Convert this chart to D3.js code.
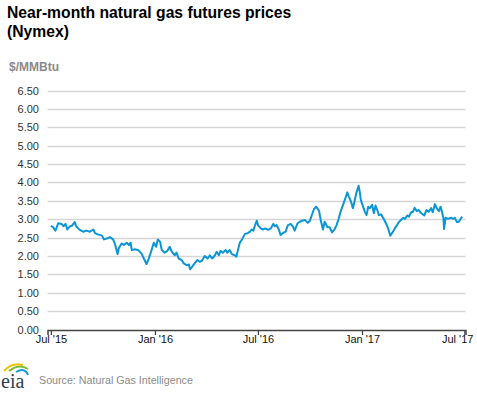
<!DOCTYPE html>
<html>
<head>
<meta charset="utf-8">
<script src="https://cdn.jsdelivr.net/npm/d3@7"></script>
<style>
  body { margin: 0; background: #fff; }
  svg { display: block; font-family: Arial, "Liberation Sans", sans-serif; }
</style>
</head>
<body>
<svg id="chart" width="477" height="393"></svg>
<script>
// near-month Henry Hub futures ($/MMBtu)
var dates = [
  '2015-07-01','2015-07-05','2015-07-09','2015-07-14','2015-07-20','2015-07-23','2015-07-27','2015-07-30',
  '2015-08-03','2015-08-07','2015-08-12','2015-08-15','2015-08-21','2015-08-27','2015-09-02','2015-09-08',
  '2015-09-14','2015-09-17','2015-09-23','2015-09-29','2015-10-03','2015-10-09','2015-10-13','2015-10-19',
  '2015-10-22','2015-10-27','2015-10-29','2015-11-03','2015-11-07','2015-11-12','2015-11-16','2015-11-19',
  '2015-11-21','2015-11-26','2015-12-02','2015-12-08','2015-12-13','2015-12-17','2015-12-21','2015-12-26',
  '2015-12-30','2016-01-03','2016-01-06','2016-01-10','2016-01-13','2016-01-18','2016-01-23','2016-01-27',
  '2016-01-31','2016-02-05','2016-02-08','2016-02-12','2016-02-17','2016-02-21','2016-02-26','2016-03-01',
  '2016-03-03','2016-03-06','2016-03-11','2016-03-16','2016-03-20','2016-03-24','2016-03-29','2016-04-03',
  '2016-04-07','2016-04-11','2016-04-16','2016-04-19','2016-04-23','2016-04-26','2016-04-30','2016-05-05',
  '2016-05-08','2016-05-12','2016-05-16','2016-05-21','2016-05-24','2016-05-27','2016-05-30','2016-06-03',
  '2016-06-08','2016-06-13','2016-06-17','2016-06-20','2016-06-23','2016-06-26','2016-06-29','2016-07-01',
  '2016-07-06','2016-07-10','2016-07-14','2016-07-19','2016-07-24','2016-07-28','2016-07-31','2016-08-03',
  '2016-08-07','2016-08-10','2016-08-14','2016-08-19','2016-08-23','2016-08-28','2016-09-01','2016-09-04',
  '2016-09-09','2016-09-13','2016-09-17','2016-09-22','2016-09-27','2016-10-01','2016-10-05','2016-10-08',
  '2016-10-12','2016-10-17','2016-10-20','2016-10-24','2016-10-27','2016-11-01','2016-11-05','2016-11-09',
  '2016-11-13','2016-11-17','2016-11-21','2016-11-24','2016-11-29','2016-12-03','2016-12-06','2016-12-09',
  '2016-12-12','2016-12-16','2016-12-19','2016-12-22','2016-12-26','2016-12-28','2016-12-30','2017-01-03',
  '2017-01-06','2017-01-09','2017-01-12','2017-01-15','2017-01-19','2017-01-22','2017-01-25','2017-01-28',
  '2017-01-31','2017-02-04','2017-02-08','2017-02-11','2017-02-15','2017-02-18','2017-02-20','2017-02-24',
  '2017-02-28','2017-03-04','2017-03-07','2017-03-11','2017-03-15','2017-03-18','2017-03-22','2017-03-25',
  '2017-03-29','2017-04-01','2017-04-04','2017-04-08','2017-04-11','2017-04-16','2017-04-21','2017-04-25',
  '2017-04-29','2017-05-03','2017-05-06','2017-05-10','2017-05-13','2017-05-17','2017-05-20','2017-05-23',
  '2017-05-25','2017-05-26','2017-05-29','2017-06-02','2017-06-07','2017-06-11','2017-06-14','2017-06-18',
  '2017-06-21','2017-06-25','2017-06-27'
];
var prices = [
  2.82,2.78,2.69,2.89,2.87,2.81,2.87,2.72,
  2.80,2.82,2.92,2.80,2.71,2.66,2.69,2.66,
  2.72,2.62,2.58,2.56,2.45,2.48,2.51,2.45,
  2.34,2.05,2.21,2.34,2.30,2.36,2.30,2.36,
  2.16,2.18,2.16,2.07,1.91,1.78,1.93,2.16,
  2.36,2.25,2.45,2.39,2.16,2.09,2.14,2.25,
  2.11,2.02,2.09,1.93,1.89,1.80,1.75,1.77,
  1.64,1.69,1.80,1.89,1.84,1.87,2.00,1.93,
  2.02,1.93,2.02,2.11,2.02,2.14,2.09,2.16,
  2.09,2.16,2.05,2.02,1.98,2.18,2.36,2.45,
  2.60,2.62,2.66,2.72,2.69,2.84,2.96,2.84,
  2.75,2.72,2.75,2.71,2.75,2.87,2.81,2.84,
  2.72,2.57,2.62,2.66,2.84,2.87,2.80,2.69,
  2.89,2.93,2.96,2.98,2.90,2.96,3.14,3.27,
  3.34,3.23,2.98,2.72,2.93,2.78,2.78,2.64,
  2.71,2.84,3.02,3.20,3.41,3.59,3.73,3.61,
  3.50,3.30,3.50,3.71,3.91,3.75,3.52,3.34,
  3.20,3.11,3.34,3.30,3.39,3.16,3.37,3.25,
  3.11,3.13,3.02,2.93,2.80,2.66,2.55,2.64,
  2.75,2.84,2.92,2.98,3.04,3.01,3.10,3.07,
  3.19,3.20,3.31,3.22,3.25,3.16,3.10,3.25,
  3.20,3.30,3.19,3.41,3.30,3.22,3.34,3.16,
  3.02,2.73,3.04,3.01,3.04,3.01,3.04,2.92,
  2.93,3.02,3.07
];
var yTicks = [0, 0.5, 1, 1.5, 2, 2.5, 3, 3.5, 4, 4.5, 5, 5.5, 6, 6.5];
var xTicks = ['2015-07-01', '2016-01-01', '2016-07-01', '2017-01-01', '2017-07-01'];

var parse = d3.timeParse('%Y-%m-%d');
var data = dates.map(function (d, i) { return { date: parse(d), value: prices[i] }; });

var svg = d3.select('#chart');

var x = d3.scaleTime()
  .domain([parse('2015-06-25'), parse('2017-07-03')])
  .range([47.5, 465.5]);
var y = d3.scaleLinear()
  .domain([0, 6.5])
  .range([329.5, 90.5]);

// title
var title = svg.append('text')
  .attr('x', 7).attr('y', 18)
  .attr('font-size', 15.7).attr('font-weight', 'bold').attr('fill', '#000');
title.append('tspan').attr('x', 7).text('Near-month natural gas futures prices');
title.append('tspan').attr('x', 7).attr('dy', 19).text('(Nymex)');

svg.append('text')
  .attr('x', 9).attr('y', 71)
  .attr('font-size', 12).attr('font-weight', 'bold').attr('fill', '#8a8a8a')
  .text('$/MMBtu');

// gridlines
svg.append('g')
  .selectAll('line')
  .data(yTicks.filter(function (d) { return d > 0; }))
  .enter().append('line')
  .attr('x1', 47.5).attr('x2', 465.5)
  .attr('y1', function (d) { return Math.round(y(d)) + 0.5; })
  .attr('y2', function (d) { return Math.round(y(d)) + 0.5; })
  .attr('stroke', '#d6d6d6').attr('stroke-width', 1.3);

// y labels
svg.append('g')
  .selectAll('text')
  .data(yTicks)
  .enter().append('text')
  .attr('x', 39)
  .attr('y', function (d) { return y(d) + 4; })
  .attr('text-anchor', 'end')
  .attr('font-size', 11).attr('fill', '#333')
  .text(function (d) { return d3.format('.2f')(d); });

// x axis
var xAxis = d3.axisBottom(x)
  .tickValues(xTicks.map(parse))
  .tickSize(5)
  .tickFormat(d3.timeFormat("%b '%y"));

var gx = svg.append('g')
  .attr('transform', 'translate(0,' + Math.round(y(0)) + ')')
  .call(xAxis);
gx.select('.domain').attr('stroke', '#444').attr('stroke-width', 1.5);
gx.selectAll('.tick line').attr('stroke', '#444').attr('stroke-width', 1.3);
gx.selectAll('.tick text')
  .attr('font-family', 'Arial, "Liberation Sans", sans-serif')
  .attr('font-size', 11).attr('fill', '#111').attr('dy', '0.45em');
// last label is pulled in so it stays inside the frame
gx.selectAll('.tick text').filter(function (d, i) { return i === xTicks.length - 1; })
  .attr('text-anchor', 'end').attr('x', 8.5);

// price line
var line = d3.line()
  .x(function (d) { return x(d.date); })
  .y(function (d) { return y(d.value); });

svg.append('path')
  .datum(data)
  .attr('d', line)
  .attr('fill', 'none')
  .attr('stroke', '#0a96d6')
  .attr('stroke-width', 2)
  .attr('stroke-linejoin', 'round');

// eia logo + source
var logo = svg.append('g');
logo.append('path').attr('d', 'M4,371 Q12,362 23,365').attr('fill', 'none').attr('stroke', '#f2c200').attr('stroke-width', 2);
logo.append('path').attr('d', 'M9,371 Q19,363 28,369').attr('fill', 'none').attr('stroke', '#7cbc2c').attr('stroke-width', 2);
logo.append('path').attr('d', 'M16,372 Q25,367 28,375').attr('fill', 'none').attr('stroke', '#1a9ad6').attr('stroke-width', 2);
logo.append('text')
  .attr('x', 1).attr('y', 388)
  .attr('font-family', '"Liberation Serif", "DejaVu Serif", serif')
  .attr('font-size', 20).attr('fill', '#2f3e4e')
  .text('eia');

svg.append('text')
  .attr('x', 39).attr('y', 384)
  .attr('font-size', 10.7).attr('fill', '#8a8a8a')
  .text('Source: Natural Gas Intelligence');
</script>
</body>
</html>
